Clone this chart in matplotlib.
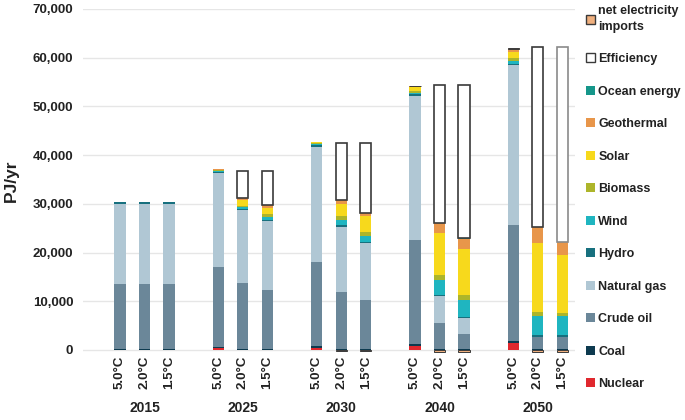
import numpy as np
import matplotlib.pyplot as plt
from matplotlib.patches import Patch

# ===== data (PJ/yr), bars ordered 2015..2050 x (5.0, 2.0, 1.5 °C) =====
years = ["2015", "2025", "2030", "2040", "2050"]
scenarios = ["5.0°C", "2.0°C", "1.5°C"]

nuclear = [0, 0, 0, 500, 0, 0, 500, 0, 0, 900, 0, 0, 1500, 0, 0]
coal = [150, 150, 150, 200, 100, 100, 250, 150, 150, 250, 100, 100, 300, 100, 100]
crude_oil = [13450, 13450, 13450, 16300, 13700, 12200, 17300, 11800, 10100,
             21450, 5370, 3180, 23860, 2640, 2640]
natural_gas = [16400, 16400, 16400, 19300, 14900, 14180, 23700, 13350, 11650,
               29550, 5700, 3300, 32840, 0, 0]
hydro = [300, 300, 300, 200, 250, 250, 250, 300, 300, 300, 200, 150, 300, 340, 340]
wind = [0, 0, 0, 150, 400, 550, 200, 1150, 1150, 250, 3000, 3530, 500, 3900, 3900]
biomass = [0, 0, 0, 200, 250, 700, 200, 700, 880, 400, 1030, 1030, 600, 890, 680]
solar = [0, 0, 0, 100, 1150, 1200, 250, 2600, 3200, 900, 8550, 9450, 1300, 14160, 11840]
geothermal = [0, 0, 0, 100, 400, 480, 100, 700, 700, 100, 2050, 2110, 500, 3150, 2600]
ocean = [0, 0, 0, 0, 50, 50, 0, 50, 60, 0, 100, 150, 0, 140, 140]
efficiency = [0, 0, 0, 0, 5600, 7090, 0, 11750, 14370, 0, 28300, 31400, 0, 36830, 39910]
net_imports = [0, 0, 0, 0, 0, 0, 0, -150, -150, 100, -450, -450, 200, -500, -500]

series = [
    ("Nuclear", nuclear, "#e0282e"),
    ("Coal", coal, "#0d3a4f"),
    ("Crude oil", crude_oil, "#6b8799"),
    ("Natural gas", natural_gas, "#b0c7d4"),
    ("Hydro", hydro, "#17707e"),
    ("Wind", wind, "#1fb5c0"),
    ("Biomass", biomass, "#adb52a"),
    ("Solar", solar, "#f7d91c"),
    ("Geothermal", geothermal, "#e8964a"),
    ("Ocean energy", ocean, "#15968a"),
    ("Efficiency", efficiency, "white"),
    ("net electricity\nimports", net_imports, "#f0b07e"),
]

EDGE = "#3a3a3a"
FONT = "Liberation Sans"
TXT = "#222222"
plt.rcParams["font.family"] = [FONT, "DejaVu Sans"]

# bar positions: groups of 3 with a gap
pos = np.array([g * 4 + s for g in range(len(years)) for s in range(len(scenarios))], dtype=float)

fig = plt.figure(figsize=(6.85, 4.2), dpi=100)
ax = fig.add_axes([0.1212, 0.1598, 0.839 - 0.1212, 0.9786 - 0.1598])

pos_bottom = np.zeros(len(pos))
neg_bottom = np.zeros(len(pos))
handles = []
for name, vals, color in series:
    v = np.array(vals, dtype=float)
    bottom = np.where(v >= 0, pos_bottom, neg_bottom)
    mask = v != 0
    if name == "Efficiency":
        ec = np.array([EDGE] * 14 + ["#8a8a8a"], dtype=object)[mask]
        lw = 1.2
    elif name.startswith("net"):
        ec, lw = EDGE, 0.7
    else:
        ec, lw = "none", 0
    ax.bar(pos[mask], v[mask], bottom=bottom[mask], width=0.46, color=color,
           edgecolor=ec, linewidth=lw, zorder=3)
    pos_bottom += np.where(v > 0, v, 0)
    neg_bottom += np.where(v < 0, v, 0)
    handles.append(Patch(facecolor=color,
                         edgecolor=EDGE if lw else color, linewidth=1.0 if lw else 0,
                         label=name))

ax.set_ylim(-600, 70000)
ax.set_xlim(-1.5, 18.5)
ax.set_yticks(np.arange(0, 70001, 10000))
ax.set_yticklabels([f"{t:,}" for t in range(0, 70001, 10000)],
                   fontsize=9.5, fontweight="bold", color=TXT)
ax.set_xticks(pos)
ax.set_xticklabels(scenarios * len(years), rotation=90, fontsize=9.5,
                   fontweight="bold", color=TXT)
ax.tick_params(length=0, pad=2)
ax.tick_params(axis="y", pad=7)
ax.grid(axis="y", color="#e6e6e6", linewidth=1.0, zorder=0)
for s in ax.spines.values():
    s.set_visible(False)
ax.set_ylabel("PJ/yr", fontsize=12.5, fontweight="bold", color=TXT, labelpad=10)

# year labels under each group
for g, y in enumerate(years):
    ax.text(g * 4 + 1, -0.16, y, transform=ax.get_xaxis_transform(), ha="center",
            va="center", fontsize=10, fontweight="bold", color=TXT)

leg = fig.legend(handles[::-1], [h.get_label() for h in handles[::-1]],
                 loc="upper left", bbox_to_anchor=(0.839, 1.014), frameon=False,
                 handlelength=0.75, handleheight=0.75, handletextpad=0.25,
                 labelspacing=1.64, prop={"family": FONT, "weight": "bold", "size": 9})
for t in leg.get_texts():
    t.set_color(TXT)
leg.get_texts()[0].set_linespacing(1.35)

fig.savefig("out.png", dpi=100)
